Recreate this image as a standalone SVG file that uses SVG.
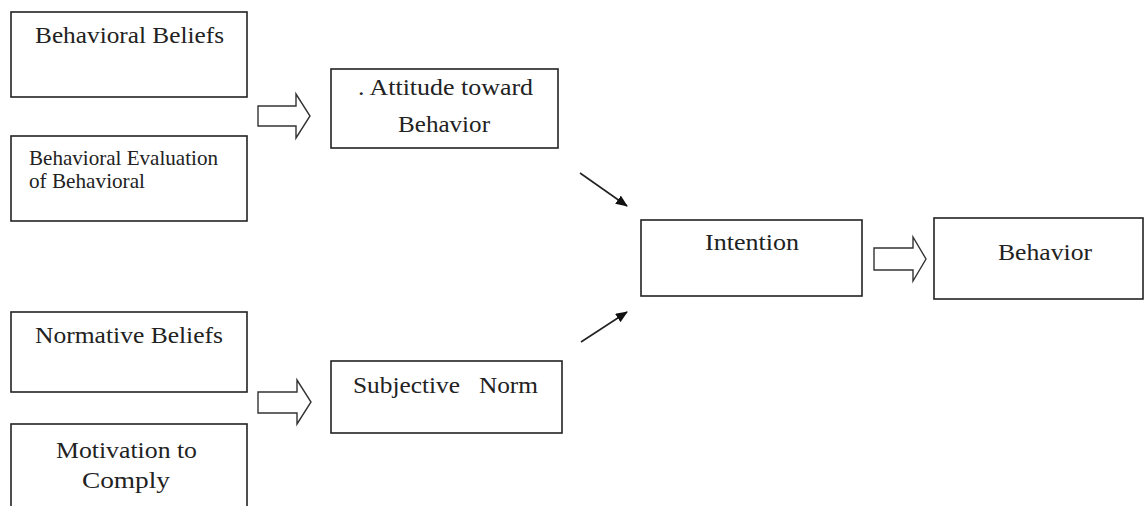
<svg xmlns="http://www.w3.org/2000/svg" width="1147" height="506" viewBox="0 0 1147 506">
<style>
.box{fill:#fff;stroke:#222;stroke-width:1.6}
.t{font-family:"Liberation Serif","Times New Roman",serif;font-size:22.5px;fill:#222}
.s{font-family:"Liberation Serif","Times New Roman",serif;font-size:22px;fill:#222}
.blk{fill:#fff;stroke:#333;stroke-width:1.4;stroke-linejoin:miter}
.ln{stroke:#222;stroke-width:1.6;fill:none}
</style>
<defs>
<marker id="ah" markerWidth="12" markerHeight="10" refX="11" refY="5" orient="auto" markerUnits="userSpaceOnUse">
<path d="M0,0 L12,5 L0,10 Z" fill="#111"/>
</marker>
</defs>
<rect width="1147" height="506" fill="#fff"/>
<g id="n-behavioral-beliefs"><rect class="box" x="11" y="12" width="236" height="85"/><text class="t" x="35" y="43" textLength="189" lengthAdjust="spacingAndGlyphs">Behavioral Beliefs</text></g>
<g id="n-behavioral-evaluation"><rect class="box" x="11" y="136" width="236" height="85"/><text class="s" x="29" y="165" textLength="189" lengthAdjust="spacingAndGlyphs">Behavioral Evaluation</text><text class="s" x="29" y="188" textLength="116" lengthAdjust="spacingAndGlyphs">of Behavioral</text></g>
<g id="n-attitude"><rect class="box" x="331" y="69" width="227" height="79"/><text class="t" x="358" y="95" textLength="175" lengthAdjust="spacingAndGlyphs">. Attitude toward</text><text class="t" x="398" y="132" textLength="92" lengthAdjust="spacingAndGlyphs">Behavior</text></g>
<g id="n-normative-beliefs"><rect class="box" x="11" y="312" width="236" height="80"/><text class="t" x="35" y="343" textLength="188" lengthAdjust="spacingAndGlyphs">Normative Beliefs</text></g>
<g id="n-motivation"><rect class="box" x="11" y="424" width="236" height="90"/><text class="t" x="56" y="458" textLength="141" lengthAdjust="spacingAndGlyphs">Motivation to</text><text class="t" x="82" y="488" textLength="88" lengthAdjust="spacingAndGlyphs">Comply</text></g>
<g id="n-subjective-norm"><rect class="box" x="331" y="361" width="231" height="72"/><text class="t" x="353" y="393" textLength="185" lengthAdjust="spacingAndGlyphs" xml:space="preserve">Subjective   Norm</text></g>
<g id="n-intention"><rect class="box" x="641" y="220" width="221" height="76"/><text class="t" x="705" y="250" textLength="94" lengthAdjust="spacingAndGlyphs">Intention</text></g>
<g id="n-behavior"><rect class="box" x="934" y="218" width="209" height="81"/><text class="t" x="998" y="260" textLength="94" lengthAdjust="spacingAndGlyphs">Behavior</text></g>
<g id="connectors">
<path class="blk" d="M258,106 L296,106 L296,94 L310,116 L296,138 L296,126 L258,126 Z"/>
<path class="blk" d="M258,392 L297,392 L297,380 L311,402 L297,424 L297,413 L258,413 Z"/>
<path class="blk" d="M874,248 L913,248 L913,237 L926,259 L913,281 L913,270 L874,270 Z"/>
<line class="ln" x1="580" y1="173" x2="627" y2="206" marker-end="url(#ah)"/>
<line class="ln" x1="581" y1="342" x2="627" y2="312" marker-end="url(#ah)"/>
</g>
</svg>
